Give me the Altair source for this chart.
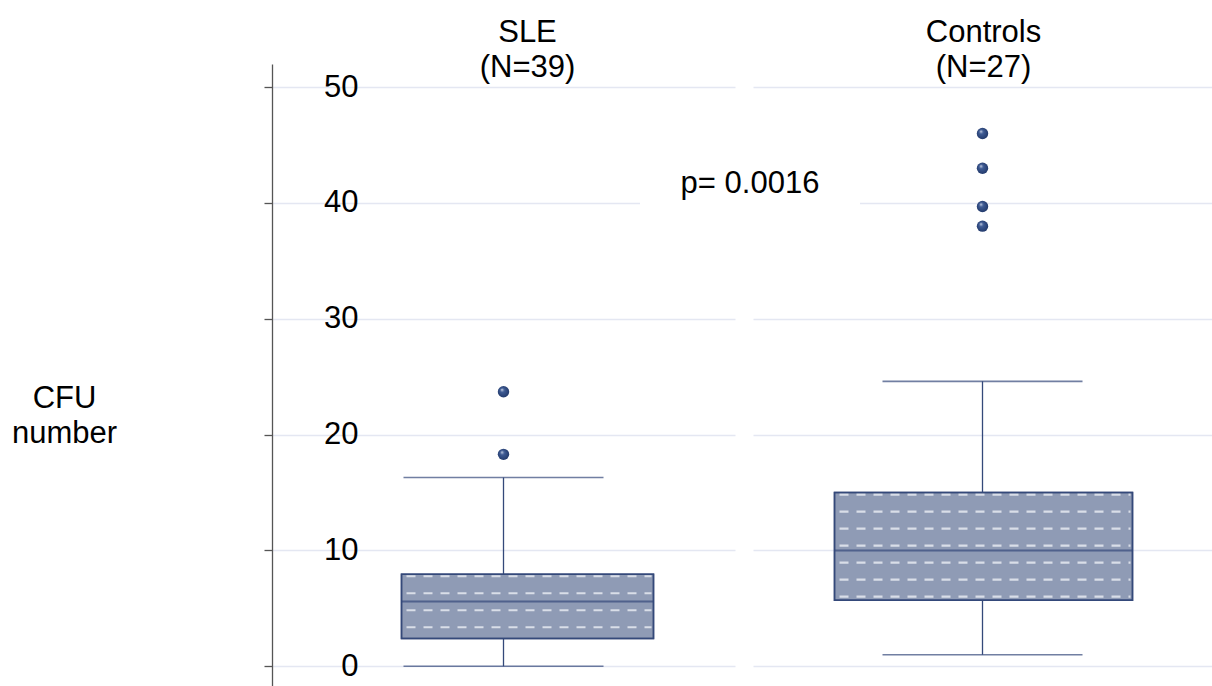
import altair as alt
import numpy as np
import pandas as pd

# Box-plot summary of CFU counts per group
groups = ["SLE", "Controls"]
n_subjects = [39, 27]
whisker_low = [0.0, 1.0]
q1 = [2.4, 5.7]
median = [5.6, 10.0]
q3 = [7.95, 15.0]
whisker_high = [16.3, 24.6]
outlier_values = {
    "SLE": [18.3, 23.7],
    "Controls": [38.0, 39.7, 43.0, 46.0],
}
p_value_text = "p= 0.0016"
y_ticks = [0, 10, 20, 30, 40, 50]

FONT = "Liberation Sans"
NAVY = "#34497a"
BOX_FILL = "#8f9bb5"
DASH = "#d9dee8"
GRID = "#e4e7f2"
AXIS = "#555555"
Y_DOMAIN = [-1.7, 52]
PANEL_H = 622
PX_PER_UNIT = PANEL_H / (Y_DOMAIN[1] - Y_DOMAIN[0])

ball_fill = {
    "gradient": "radial",
    "x1": 0.35, "y1": 0.3, "r1": 0.0,
    "x2": 0.5, "y2": 0.5, "r2": 0.6,
    "stops": [
        {"offset": 0.0, "color": "#d5dcec"},
        {"offset": 0.3, "color": "#3f5c95"},
        {"offset": 1.0, "color": "#1d3363"},
    ],
}


def texture_rows(top, bottom, step_px=17, inset_px=2):
    """Heights (in data units) of the dashed texture rows inside a box."""
    step = step_px / PX_PER_UNIT
    start = top - inset_px / PX_PER_UNIT
    stop = bottom + inset_px / PX_PER_UNIT
    return list(np.arange(start, stop, -step))


def panel(i, width, box_w, shift, show_axis, extra=None):
    g = groups[i]
    stats = pd.DataFrame({
        "group": [g],
        "low": [whisker_low[i]],
        "q1": [q1[i]],
        "median": [median[i]],
        "q3": [q3[i]],
        "high": [whisker_high[i]],
        "label": [f"{g}\n(N={n_subjects[i]})"],
    })
    outs = pd.DataFrame({"group": g, "value": outlier_values[g]})
    rows = pd.DataFrame({"row": texture_rows(q3[i], q1[i])})

    if show_axis:
        y_axis = alt.Axis(
            values=y_ticks, grid=True, gridColor=GRID, gridWidth=1.5,
            domain=True, domainColor=AXIS, domainWidth=1.3,
            ticks=True, tickSize=8, tickColor=AXIS, tickWidth=1.3,
            labelAlign="right", labelBaseline="middle", labelPadding=-94,
            labelFontSize=31, labelFont=FONT, labelColor="black",
            title=["CFU", "number"], titleAngle=0, titleX=-208, titleY=343,
            titleAlign="center", titleBaseline="alphabetic", titleFontSize=31,
            titleFont=FONT, titleFontWeight="normal", titleColor="black",
            titleLineHeight=35,
        )
    else:
        y_axis = alt.Axis(values=y_ticks, grid=True, gridColor=GRID, gridWidth=1.5,
                          domain=False, ticks=False, labels=False, title=None)

    y_scale = alt.Scale(domain=Y_DOMAIN, nice=False, zero=False)
    x_enc = alt.X("group:N", axis=None, scale=alt.Scale(paddingInner=0, paddingOuter=0))

    base = alt.Chart(stats).encode(x=x_enc)

    whisker = base.mark_rule(color=NAVY, strokeWidth=1.3).encode(
        y=alt.Y("low:Q", scale=y_scale, axis=y_axis), y2="high:Q")
    caps_low = base.mark_tick(size=200, thickness=1.6, color=NAVY).encode(
        y=alt.Y("low:Q", scale=y_scale))
    caps_high = base.mark_tick(size=200, thickness=1.6, color=NAVY).encode(
        y=alt.Y("high:Q", scale=y_scale))
    box = base.mark_bar(size=box_w, fill=BOX_FILL, stroke=NAVY, strokeWidth=1.5,
                        xOffset=shift).encode(
        y=alt.Y("q1:Q", scale=y_scale), y2="q3:Q")

    # dashed light texture inside the box
    box_left = width / 2 + shift - box_w / 2 + 2
    box_right = width / 2 + shift + box_w / 2 - 2
    texture = alt.Chart(rows).mark_rule(
        color=DASH, strokeWidth=2.2, strokeDash=[9, 8], strokeDashOffset=-3
    ).encode(
        x=alt.value(box_left), x2=alt.value(box_right),
        y=alt.Y("row:Q", scale=y_scale))
    outline = base.mark_bar(size=box_w, fill=None, fillOpacity=0, stroke=NAVY,
                            strokeWidth=1.5, xOffset=shift).encode(
        y=alt.Y("q1:Q", scale=y_scale), y2="q3:Q")

    med = base.mark_tick(size=box_w, thickness=2, color=NAVY, xOffset=shift).encode(
        y=alt.Y("median:Q", scale=y_scale))
    header = base.mark_text(font=FONT, fontSize=31, lineBreak="\n", lineHeight=35,
                            align="center", baseline="alphabetic", color="black",
                            xOffset=shift).encode(
        y=alt.datum(53.9), text="label:N")
    pts = alt.Chart(outs).mark_point(filled=True, size=130, fill=ball_fill,
                                     opacity=1, strokeWidth=0).encode(
        x=x_enc, y=alt.Y("value:Q", scale=y_scale))

    layers = [whisker, caps_low, caps_high, box, texture, outline, med, pts, header]
    if extra is not None:
        layers += extra
    return alt.layer(*layers).properties(width=width, height=PANEL_H)


# p-value annotation sits between the panels on a white patch over the grid
note_df = pd.DataFrame({"text": [p_value_text]})
note_bg = alt.Chart(note_df).mark_rect(color="white").encode(
    x=alt.value(-113), x2=alt.value(107),
    y=alt.datum(43.0), y2=alt.datum(39.2))
note = alt.Chart(note_df).mark_text(font=FONT, fontSize=31, align="center",
                                    baseline="alphabetic", color="black").encode(
    x=alt.value(-3), y=alt.datum(40.87), text="text:N")

left = panel(0, 463, 252, 24, True)
right = panel(1, 459, 298, 1, False, extra=[note_bg, note])

chart = alt.hconcat(left, right, spacing=18, bounds="flush").properties(
    padding={"left": 11, "top": 16, "right": 0, "bottom": 0}
).configure(background="white").configure_view(stroke=None)

chart.save("out.html", embed_options={"renderer": "svg", "actions": False})
